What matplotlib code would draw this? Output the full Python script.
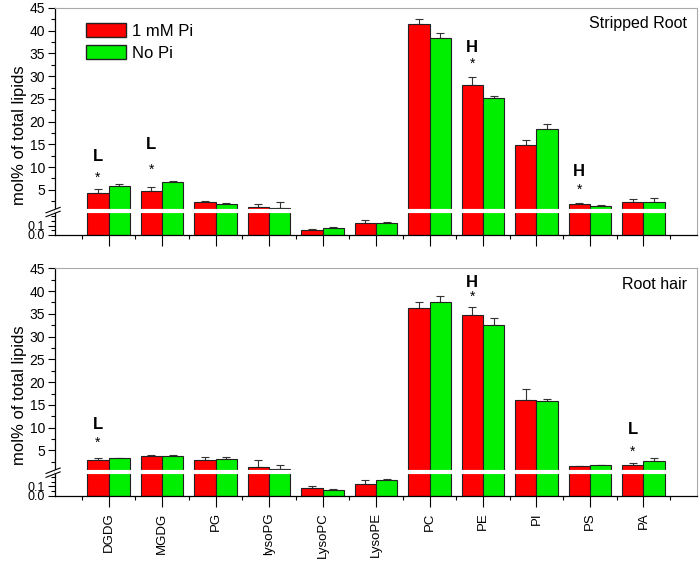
import numpy as np
import matplotlib
matplotlib.use('Agg')
import matplotlib.pyplot as plt
from matplotlib.patches import Patch

plt.rcParams['font.family'] = ['Liberation Sans', 'DejaVu Sans']

# lipid classes
lipids = ['DGDG', 'MGDG', 'PG', 'lysoPG', 'LysoPC', 'LysoPE',
          'PC', 'PE', 'PI', 'PS', 'PA']

# stripped root: means and upper error bar tops
root_pi = [4.39, 4.77, 2.41, 1.31, 0.053, 0.124, 41.4, 28.05, 14.8, 1.9, 2.28]
root_pi_top = [5.14, 5.71, 2.56, 1.84, 0.060, 0.156, 42.6, 29.8, 15.9, 2.06, 2.94]
root_nopi = [5.87, 6.75, 1.9, 1.02, 0.071, 0.131, 38.3, 25.3, 18.35, 1.46, 2.34]
root_nopi_top = [6.31, 6.97, 2.12, 2.28, 0.088, 0.138, 39.5, 25.75, 19.45, 1.62, 3.16]

# root hair
hair_pi = [2.94, 3.88, 2.94, 1.46, 0.079, 0.128, 36.35, 34.65, 16.09, 1.55, 1.77]
hair_pi_top = [3.31, 4.04, 3.6, 2.94, 0.100, 0.164, 37.6, 36.57, 18.4, 1.68, 2.21]
hair_nopi = [3.31, 3.82, 3.16, 0.89, 0.061, 0.167, 37.7, 32.6, 15.87, 1.77, 2.72]
hair_nopi_top = [3.44, 4.04, 3.53, 1.84, 0.068, 0.180, 39.0, 34.06, 16.37, 1.9, 3.31]

# significance marks: (category index, letter, letter y, star y)
root_marks = [(0, 'L', 12.25, 7.63), (1, 'L', 14.9, 9.4),
              (7, 'H', 36.3, 32.74), (9, 'H', 8.95, 4.98)]
hair_marks = [(0, 'L', 10.8, 6.75), (7, 'H', 41.86, 38.69),
              (10, 'L', 9.55, 4.77)]

# broken axis: 0..BRK stretched, BRK..45 normal
BRK = 0.25
K = 20.7


def fwd(v):
    v = np.asarray(v, dtype=float)
    return np.where(v <= BRK, v * K, BRK * K + (v - BRK))


def inv(u):
    u = np.asarray(u, dtype=float)
    return np.where(u <= BRK * K, u / K, u - BRK * K + BRK)


RED = '#ff0000'
GREEN = '#00ee00'
W = 0.4

fig = plt.figure(figsize=(7, 5.62), dpi=100)
ax1 = fig.add_axes([0.0786, 0.5819, 0.9171, 0.4039])
ax2 = fig.add_axes([0.0786, 0.118, 0.9171, 0.4046])


def draw(ax, pi, pi_top, nopi, nopi_top, marks, title, show_labels):
    x = np.arange(1, len(lipids) + 1)
    ax.set_yscale('function', functions=(fwd, inv))
    ax.bar(x - W / 2, pi, W, color=RED, edgecolor='#222222', linewidth=0.8, zorder=2)
    ax.bar(x + W / 2, nopi, W, color=GREEN, edgecolor='#222222', linewidth=0.8, zorder=2)
    e1 = np.array(pi_top) - np.array(pi)
    e2 = np.array(nopi_top) - np.array(nopi)
    ax.errorbar(x - W / 2, pi, yerr=[np.zeros_like(e1), e1], fmt='none',
                ecolor='#333333', elinewidth=0.8, capsize=3, capthick=0.8, zorder=1)
    ax.errorbar(x + W / 2, nopi, yerr=[np.zeros_like(e2), e2], fmt='none',
                ecolor='#333333', elinewidth=0.8, capsize=3, capthick=0.8, zorder=1)

    ax.set_xlim(0, 12)
    ax.set_ylim(0, 45)
    ax.set_yticks([0, 0.1, 5, 10, 15, 20, 25, 30, 35, 40, 45])
    ax.set_yticklabels(['0.0', '0.1', '5', '10', '15', '20', '25', '30', '35', '40', '45'])
    ax.set_yticks([0.05, 0.15, 0.2] + list(np.arange(2.5, 45, 5)), minor=True)
    ax.set_xticks(x)
    ax.set_xticks(np.arange(0.5, 12, 1), minor=True)
    if show_labels:
        ax.set_xticklabels(lipids, rotation=90, fontsize=9.5)
    else:
        ax.set_xticklabels([])
    ax.tick_params(axis='x', which='major', length=8, width=0.8, pad=4)
    ax.tick_params(axis='x', which='minor', length=3, width=0.8)
    ax.tick_params(axis='y', which='major', length=5, width=0.8, labelsize=10, pad=2)
    ax.tick_params(axis='y', which='minor', length=3, width=0.8)
    for lab in ax.get_yticklabels()[:2]:
        lab.set_fontsize(9)

    for s in ['top', 'right']:
        ax.spines[s].set_color('#aaaaaa')
    for s in ['left', 'bottom']:
        ax.spines[s].set_linewidth(0.9)

    # white band at the break
    ax.axhline(BRK, color='white', lw=3, zorder=3)
    yb = fwd(BRK) / fwd(45)
    for dy in (-0.011, 0.006):
        ax.plot([-0.014, 0.008], [yb + dy - 0.012, yb + dy + 0.012],
                transform=ax.transAxes, color='black', lw=0.8, clip_on=False, zorder=4)

    for i, letter, ly, sy in marks:
        ax.text(i + 1 - W / 2, ly, letter, ha='center', va='center',
                fontsize=12, fontweight='bold')
        ax.text(i + 1 - W / 2, sy, '*', ha='center', va='center', fontsize=10)

    ax.text(0.985, 0.93, title, transform=ax.transAxes, ha='right', va='center', fontsize=11.5)
    ax.set_ylabel('mol% of total lipids', fontsize=12)
    ax.yaxis.set_label_coords(-0.044, 0.44)


draw(ax1, root_pi, root_pi_top, root_nopi, root_nopi_top, root_marks, 'Stripped Root', False)
draw(ax2, hair_pi, hair_pi_top, hair_nopi, hair_nopi_top, hair_marks, 'Root hair', True)

handles = [Patch(facecolor=RED, edgecolor='#222222'), Patch(facecolor=GREEN, edgecolor='#222222')]
ax1.legend(handles, ['1 mM Pi', 'No Pi'], loc='upper left', bbox_to_anchor=(0.025, 1.0),
           frameon=False, fontsize=12, handlelength=2.4, handleheight=0.9,
           handletextpad=0.35, labelspacing=0.4)

plt.savefig('out.png', dpi=100)
